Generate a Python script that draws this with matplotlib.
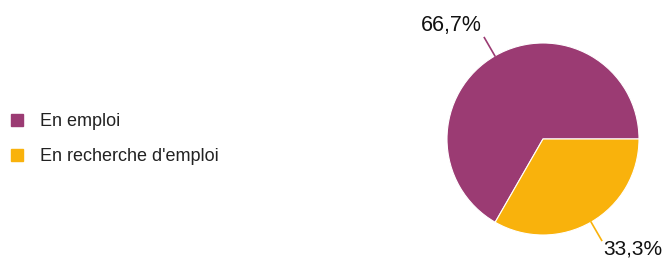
import numpy as np
import matplotlib as mpl
mpl.use('Agg')
import matplotlib.pyplot as plt
from matplotlib.lines import Line2D

plt.rcParams['font.family'] = ['Liberation Sans', 'DejaVu Sans']

categories = ['En emploi', "En recherche d'emploi"]
values = [66.7, 33.3]
labels = ['66,7%', '33,3%']
colors = ['#9b3b73', '#f9b20c']

W, H = 668, 260
fig = plt.figure(figsize=(W / 100, H / 100), dpi=100)

# pie axes: centre (543,139), radius 96 px
cx, cy, r = 543, 139, 96
ax = fig.add_axes([(cx - r) / W, (H - cy - r) / H, 2 * r / W, 2 * r / H])
wedges, _ = ax.pie(values, colors=colors, startangle=0, counterclock=True,
                   wedgeprops=dict(edgecolor='white', linewidth=0.8))
ax.set_xlim(-1, 1)
ax.set_ylim(-1, 1)
ax.set_aspect('equal')
ax.axis('off')

# leader lines + value labels
for w, lab in zip(wedges, labels):
    ang = np.deg2rad((w.theta1 + w.theta2) / 2)
    x0, y0 = np.cos(ang), np.sin(ang)
    x1, y1 = 1.22 * x0, 1.22 * y0
    ax.plot([x0, x1], [y0, y1], color=w.get_facecolor(), lw=1.2, clip_on=False)
    if x0 < 0:
        ax.annotate(lab, (x1, y1), xytext=(-2, 1), textcoords='offset points',
                    ha='right', va='bottom', fontsize=15.5, color='#111111',
                    annotation_clip=False)
    else:
        ax.annotate(lab, (x1, y1), xytext=(1.5, -10), textcoords='offset points',
                    ha='left', va='baseline', fontsize=15, color='#111111',
                    annotation_clip=False)

handles = [Line2D([], [], marker='s', linestyle='none', markersize=9,
                  markerfacecolor=c, markeredgecolor=c) for c in colors]
fig.legend(handles, categories, loc='center left', bbox_to_anchor=(0.0, (H - 139) / H),
           frameon=False, fontsize=13, handletextpad=0.87, labelspacing=1.0,
           borderaxespad=0.15, handlelength=0.8, labelcolor='#222222')

fig.savefig('out.png', dpi=100)
